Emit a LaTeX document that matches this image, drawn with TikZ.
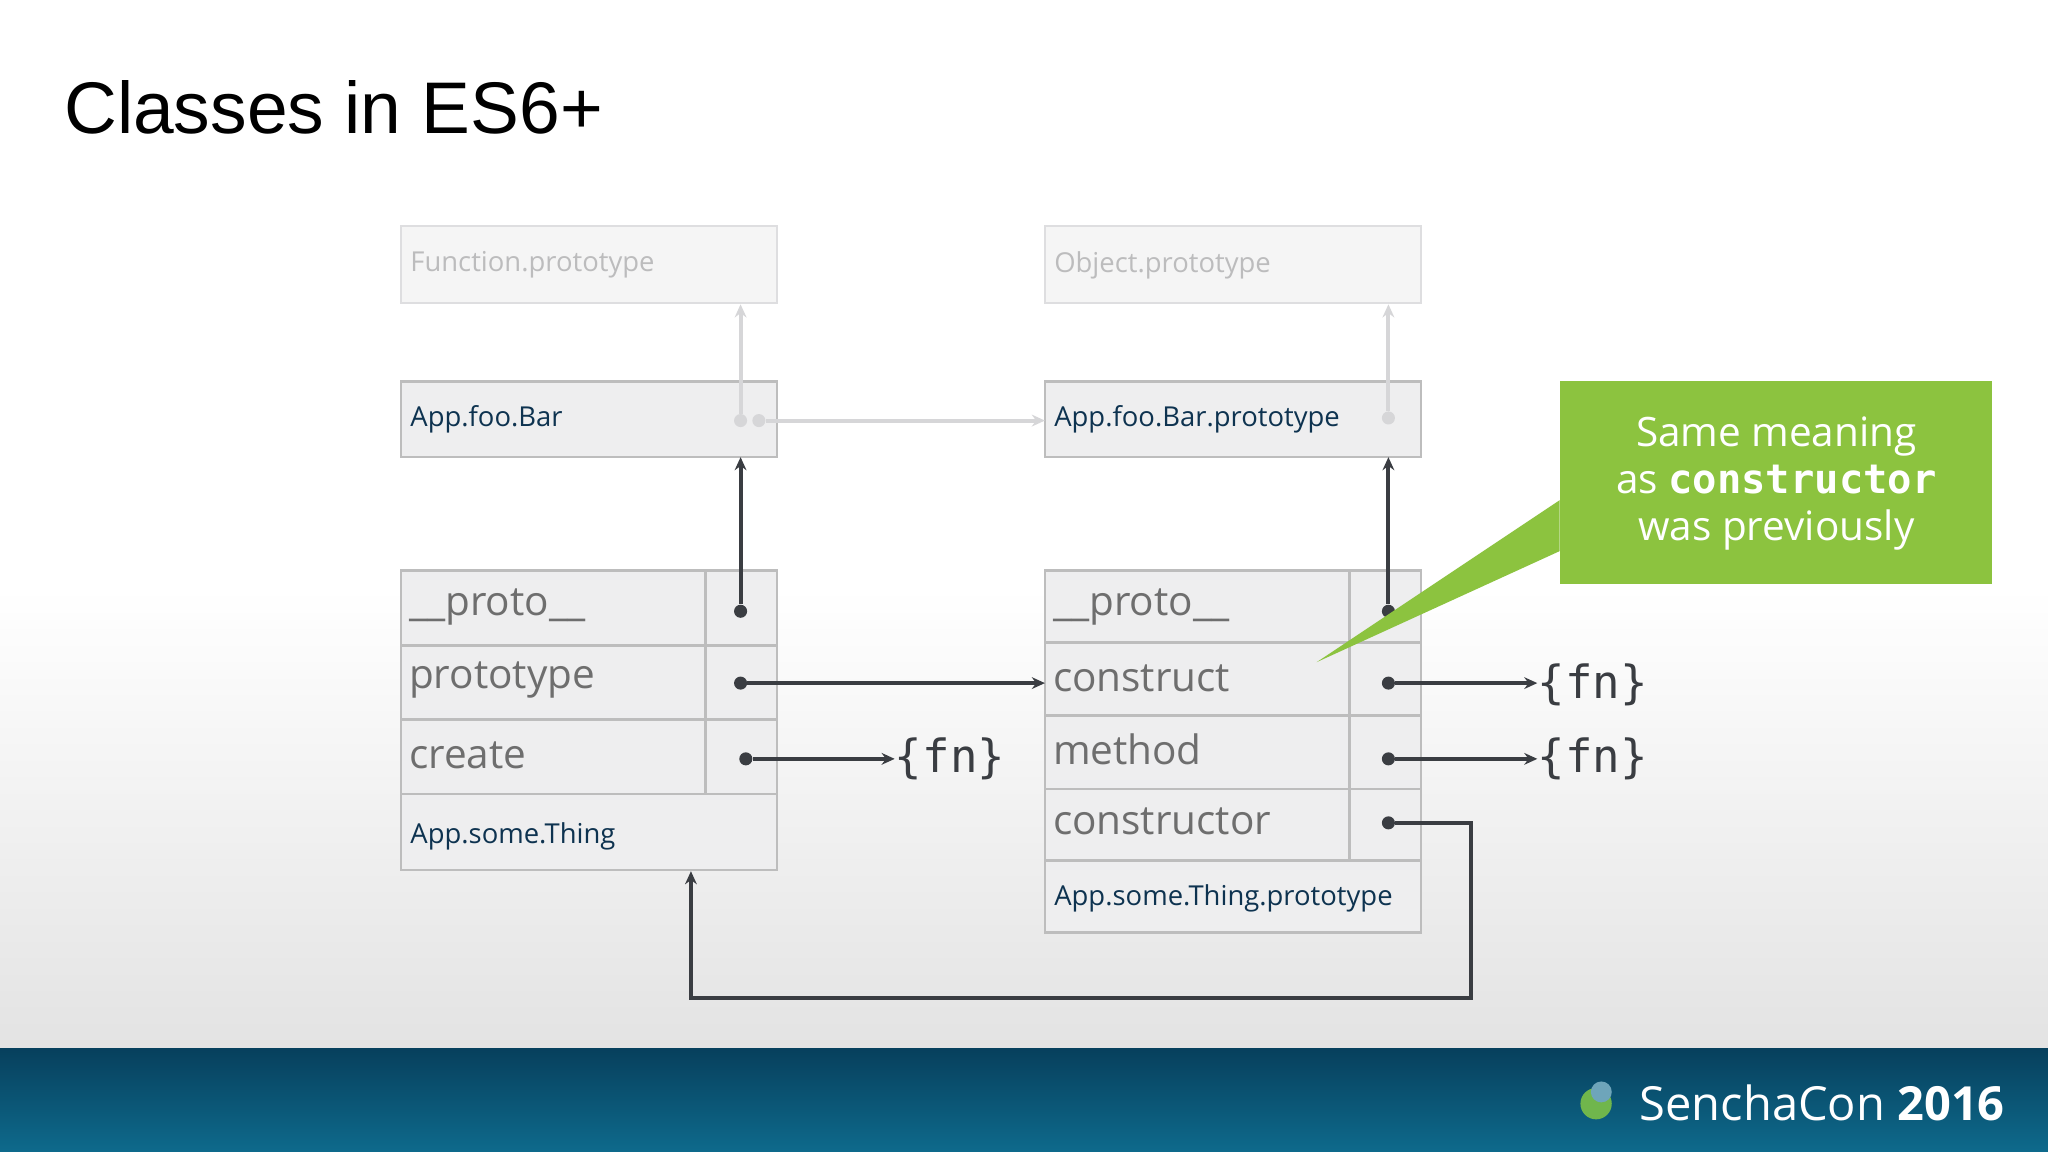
\documentclass[tikz,border=0pt]{standalone}
\usepackage{fontspec}
\setmainfont{Open Sans}
\newfontfamily\titlef{Liberation Sans}
\newfontfamily\monof{DejaVu Sans Mono}
\usetikzlibrary{arrows.meta}
\definecolor{navy}{HTML}{0E3350}
\definecolor{cellbg}{HTML}{EEEEEF}
\definecolor{bord}{HTML}{BDBDBD}
\definecolor{txtg}{HTML}{6E6E6E}
\definecolor{darkl}{HTML}{3A3D42}
\definecolor{faint}{HTML}{D6D6D8}
\definecolor{green}{HTML}{8CC33F}
\definecolor{barA}{HTML}{07405D}
\definecolor{barB}{HTML}{0E6A8C}
\begin{document}
\begin{tikzpicture}[x=1pt,y=-1pt,
  cell/.style={draw=bord,line width=2pt,fill=cellbg},
  fcell/.style={draw=faint!80!white,line width=2pt,fill=cellbg!60!white},
  big/.style={anchor=west,text=txtg,font=\fontsize{31}{31}\selectfont,inner sep=0pt},
  small/.style={anchor=west,text=navy,font=\fontsize{21}{21}\selectfont,inner sep=0pt},
  faded/.style={anchor=west,text=faint!70!gray,font=\fontsize{21}{21}\selectfont,inner sep=0pt},
  dk/.style={draw=darkl,line width=3pt,-{Stealth[length=10pt,width=9pt]}},
  fd/.style={draw=faint,line width=3pt,-{Stealth[length=10pt,width=9pt]}},
  dot/.style={circle,fill=darkl,inner sep=0pt,minimum size=10pt},
  fdot/.style={circle,fill=faint,inner sep=0pt,minimum size=10pt},
  fn/.style={anchor=west,inner sep=0pt,text=darkl,font=\monof\fontsize{35}{35}\selectfont}]
\useasboundingbox (0,0) rectangle (1568,882);
\shade[top color=white,bottom color=white] (0,0) rectangle (1568,450);
\shade[top color=white,bottom color=gray!22] (0,450) rectangle (1568,803);
\shade[top color=barA,bottom color=barB] (0,803) rectangle (1568,882);
\node[anchor=base west,inner sep=0pt,font=\titlef\fontsize{56}{56}\selectfont] (title) at (49,102) {Classes in ES6+};
% faded boxes
\draw[fcell] (307,173) rectangle (595,232);
\node[faded] (fp) at (314,203) {Function.prototype};
\draw[fcell] (800,173) rectangle (1088,232);
\node[faded] (op) at (807,203) {Object.prototype};
\draw[cell] (307,292) rectangle (595,350);
\node[small] (afb) at (314,321) {App.foo.Bar};
\draw[cell] (800,292) rectangle (1088,350);
\node[small] (afbp) at (807,321) {App.foo.Bar.prototype};
% left table
\foreach \a/\b in {437/494,494/551,551/608}{\draw[cell] (307,\a) rectangle (540,\b);\draw[cell] (540,\a) rectangle (595,\b);}
\draw[cell] (307,608) rectangle (595,666);
\node[big] (lp) at (313,465) {\_\_proto\_\_};
\node[big] (lpr) at (313,521) {prototype};
\node[big] (lc) at (313,578) {create};
\node[small] (ast) at (314,640) {App.some.Thing};
% right table
\foreach \a/\b in {437/492,492/548,548/604,604/659}{\draw[cell] (800,\a) rectangle (1033,\b);\draw[cell] (1033,\a) rectangle (1088,\b);}
\draw[cell] (800,659) rectangle (1088,714);
\node[big] (rp) at (806,465) {\_\_proto\_\_};
\node[big] (rc) at (806,519) {construct};
\node[big] (rm) at (806,574) {method};
\node[big] (rco) at (806,629) {constructor};
\node[small] (astp) at (807,688) {App.some.Thing.prototype};
% faded arrows
\node[fdot] (f1) at (567,322) {};
\node[fdot] (f2) at (581,322) {};
\node[fdot] (f3) at (1063,320) {};
\coordinate (fpb) at (567,233);
\coordinate (opb) at (1063,233);
\coordinate (afbpl) at (800,322);
\draw[fd] (f1) -- (fpb);
\draw[fd] (f3) -- (opb);
\draw[fd] (f2) -- (afbpl);
% dark arrows
\node[dot] (d1) at (567,468) {};
\node[dot] (d2) at (1063,468) {};
\node[dot] (d3) at (567,523) {};
\node[dot] (d4) at (571,581) {};
\node[dot] (d5) at (1063,523) {};
\node[dot] (d6) at (1063,581) {};
\node[dot] (d7) at (1063,630) {};
\coordinate (a1) at (567,350); \coordinate (a2) at (1063,350);
\coordinate (a3) at (800,523);
\draw[dk] (d1) -- (a1);
\draw[dk] (d2) -- (a2);
\draw[dk] (d3) -- (a3);
\node[fn] (fn1) at (685,581) {\{fn\}};
\node[fn] (fn2) at (1177,524) {\{fn\}};
\node[fn] (fn3) at (1177,581) {\{fn\}};
\draw[dk] (d4) -- (fn1.west);
\draw[dk] (d5) -- (d5 -| fn2.west);
\draw[dk] (d6) -- (d6 -| fn3.west);
\coordinate (b1) at (1126,630); \coordinate (b2) at (1126,764);
\coordinate (b3) at (529,764); \coordinate (b4) at (529,667);
\draw[dk] (d7) -- (b1) -- (b2) -- (b3) -- (b4);
% callout
\fill[green] (1194,292) rectangle (1525,447);
\fill[green] (1194,383) -- (1008,507) -- (1194,422) -- cycle;
\node[align=center,text=white,font=\fontsize{31}{36}\selectfont,inner sep=0pt] (call) at (1360,370)
  {Same meaning\\as {\monof\bfseries constructor}\\was previously};
% footer
\node[anchor=base east,inner sep=0pt,text=white,font=\fontsize{36}{36}\selectfont] (logo) at (1535,858) {SenchaCon \textbf{2016}};
\fill[green!80!teal] (1222,845) circle (12pt);
\fill[barB!60!white] (1226,836) circle (8pt);
\end{tikzpicture}
\end{document}
